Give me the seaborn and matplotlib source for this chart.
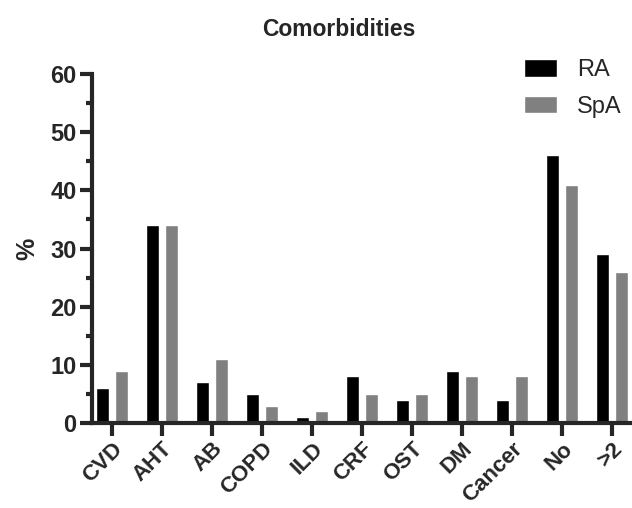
import pandas as pd
import matplotlib.pyplot as plt
import seaborn as sns
from matplotlib.ticker import MultipleLocator

# === data ===
categories = ["CVD", "AHT", "AB", "COPD", "ILD", "CRF", "OST", "DM", "Cancer", "No", ">2"]
ra = [6, 34, 7, 5, 1, 8, 4, 9, 4, 46, 29]
spa = [9, 34, 11, 3, 2, 5, 5, 8, 8, 41, 26]

df = pd.DataFrame({
    "cat": categories * 2,
    "val": ra + spa,
    "group": ["RA"] * len(categories) + ["SpA"] * len(categories),
})

sns.set_style("ticks")
plt.rcParams['font.family'] = ['Liberation Sans', 'DejaVu Sans']

fig = plt.figure(figsize=(6.32, 5.08), dpi=100)
ax = fig.add_axes([92 / 632, 85 / 508, 540 / 632, 349 / 508])

sns.barplot(data=df, x="cat", y="val", hue="group", order=categories,
            palette={"RA": "#000000", "SpA": "#808080"},
            width=0.76, gap=0.32, saturation=1, ax=ax, legend=True)

ax.set_xlim(-0.4, 10.4)
ax.set_ylim(0, 60)
ax.yaxis.set_major_locator(MultipleLocator(10))
ax.yaxis.set_minor_locator(MultipleLocator(5))

for s in ["top", "right"]:
    ax.spines[s].set_visible(False)
for s in ["left", "bottom"]:
    ax.spines[s].set_linewidth(3)
    ax.spines[s].set_capstyle("projecting")

ax.tick_params(axis="both", which="major", length=9, width=3, direction="out", pad=2)
ax.tick_params(axis="y", which="minor", length=4.5, width=3, direction="out")
ax.tick_params(axis="y", labelsize=17)

for lbl in ax.get_yticklabels():
    lbl.set_fontweight("bold")
ax.set_xticks(range(len(categories)))
ax.set_xticklabels(categories, rotation=45, ha="right", rotation_mode="anchor",
                   fontsize=16, fontweight="bold")

ax.set_xlabel("")
ax.set_ylabel("%", fontsize=18, fontweight="bold", labelpad=8)

fig.text(339 / 632, 1 - 30 / 508, "Comorbidities", ha="center", va="center",
         fontsize=16.5, fontweight="bold")

leg = ax.legend(loc="upper left", bbox_to_anchor=(503 / 632, 1 - 38 / 508),
                bbox_transform=fig.transFigure, frameon=False,
                fontsize=17, handlelength=1.4, handleheight=0.75,
                handletextpad=0.85, labelspacing=0.62)

fig.savefig("out.png", dpi=100)
